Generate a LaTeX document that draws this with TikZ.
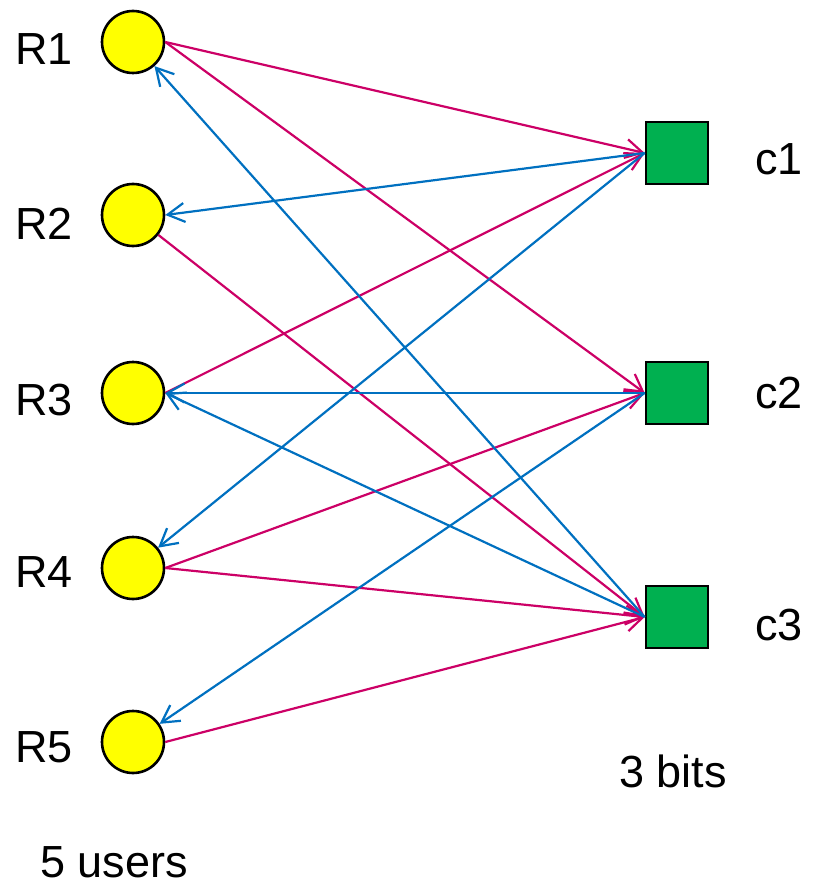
\documentclass[tikz,border=0pt]{standalone}
\usepackage{fontspec}
\setmainfont{Liberation Sans}
\usetikzlibrary{arrows.meta}
\definecolor{mag}{HTML}{CC0066}
\definecolor{blu}{HTML}{0070C0}
\definecolor{grn}{HTML}{00B050}
\definecolor{yel}{HTML}{FFFF00}
\begin{document}
\begin{tikzpicture}[x=1pt,y=-1pt,
  user/.style={circle,draw=black,line width=2.6pt,fill=yel,minimum size=62pt,inner sep=0pt},
  bit/.style={rectangle,draw=black,line width=2.6pt,fill=grn,minimum size=62pt,inner sep=0pt},
  lbl/.style={font=\fontsize{45}{50}\selectfont,inner sep=0pt,anchor=base},
  req/.style={draw=mag,line width=2.2pt,-{Straight Barb[length=17pt,width=19pt,line width=2.2pt]}},
  srv/.style={draw=blu,line width=2.2pt,-{Straight Barb[length=17pt,width=19pt,line width=2.2pt]}}]
\useasboundingbox (0,0) rectangle (813,885);
\node[user] (R1) at (133,42) {};
\node[user] (R2) at (133,215) {};
\node[user] (R3) at (133,393) {};
\node[user] (R4) at (133,568) {};
\node[user] (R5) at (133,742) {};
\node[bit] (c1) at (677,153) {};
\node[bit] (c2) at (677,393) {};
\node[bit] (c3) at (677,617) {};
\node[lbl] (tR1) at (44,65) {R1};
\node[lbl] (tR2) at (44,240) {R2};
\node[lbl] (tR3) at (44,415) {R3};
\node[lbl] (tR4) at (44,587) {R4};
\node[lbl] (tR5) at (44,762) {R5};
\node[lbl] (tc1) at (779,175) {c1};
\node[lbl] (tc2) at (779,408) {c2};
\node[lbl] (tc3) at (779,640) {c3};
\node[lbl] (bits) at (673,787) {3 bits};
\node[lbl] (users) at (114,877) {5 users};
% requests (magenta)
\draw[req] (R1.east) -- (c1.west);
\draw[req] (R1.east) -- (c2.west);
\draw[req] (R2) -- (c3.west);
\draw[req] (R3.east) -- (c1.west);
\draw[req] (R4.east) -- (c2.west);
\draw[req] (R4.east) -- (c3.west);
\draw[req] (R5.east) -- (c3.west);
% services (blue)
\draw[srv] (c3.west) -- (R1);
\draw[srv] (c1.west) -- (R2.east);
\draw[srv] (c2.west) -- (R3.east);
\draw[srv] (c3.west) -- (R3.east);
\draw[srv] (c1.west) -- (R4);
\draw[srv] (c2.west) -- (R5);
\end{tikzpicture}
\end{document}
